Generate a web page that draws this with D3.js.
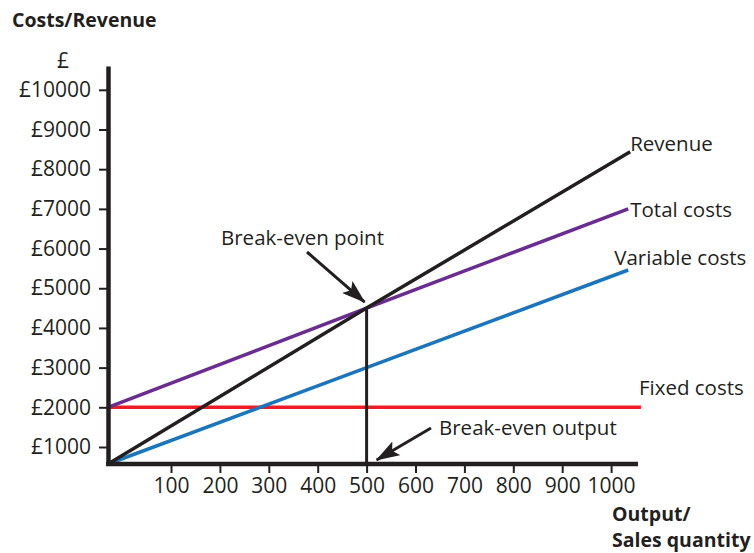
<!DOCTYPE html>
<html>
<head>
<meta charset="utf-8">
<script src="https://cdn.jsdelivr.net/npm/d3@7"></script>
<style>
  body { margin: 0; background: #fff; }
  text { font-family: "Open Sans", "Noto Sans", sans-serif; fill: #231f20; }
</style>
</head>
<body>
<div id="chart"></div>
<script>
// values (quantity, £)
const xTicks = [100, 200, 300, 400, 500, 600, 700, 800, 900, 1000];
const yTicks = [1000, 2000, 3000, 4000, 5000, 6000, 7000, 8000, 9000, 10000];
const revenue = [[0, 0], [500, 4500], [1039, 8440]];
const totalCosts = [[0, 2000], [500, 4500], [1035, 7000]];
const variableCosts = [[0, 0], [500, 3000], [1035, 5460]];
const fixedCosts = [[0, 2000], [1061, 2000]];
const breakEven = [500, 4500];

const width = 754, height = 553;
const ink = "#231f20";

const svg = d3.select("#chart").append("svg")
    .attr("width", width)
    .attr("height", height);

// the drawing is schematic: first step of each axis is wider than the rest
const x = d3.scaleLinear().domain([0, 100, 1055]).range([108, 171, 638]);
const y = d3.scaleLinear().domain([0, 1000, 10600]).range([464, 447, 66]);

// arrow head
svg.append("defs").append("marker")
    .attr("id", "head")
    .attr("markerUnits", "userSpaceOnUse")
    .attr("viewBox", "0 0 24 16")
    .attr("refX", 23).attr("refY", 8)
    .attr("markerWidth", 24).attr("markerHeight", 16)
    .attr("orient", "auto")
    .append("path")
    .attr("d", "M0,0 L24,8 L0,16 L5,8 Z")
    .attr("fill", ink);

// series lines
const line = d3.line().x(d => x(d[0])).y(d => y(d[1]));
const series = [
    { data: fixedCosts, color: "#ed1c24" },
    { data: variableCosts, color: "#1b75bc" },
    { data: totalCosts, color: "#6a2c91" },
    { data: revenue, color: ink }
];
svg.selectAll("path.series")
    .data(series)
    .enter().append("path")
    .attr("class", "series")
    .attr("fill", "none")
    .attr("stroke", d => d.color)
    .attr("stroke-width", 3.5)
    .attr("d", d => line(d.data));

// break-even drop line
svg.append("line")
    .attr("x1", x(breakEven[0])).attr("x2", x(breakEven[0]))
    .attr("y1", y(breakEven[1])).attr("y2", y(0))
    .attr("stroke", ink).attr("stroke-width", 3);

// axes
const yAxis = svg.append("g")
    .attr("transform", `translate(${x(0)},0)`)
    .call(d3.axisLeft(y).tickValues(yTicks).tickSize(9).tickSizeOuter(0).tickPadding(8)
        .tickFormat(d => "£" + d));
const xAxis = svg.append("g")
    .attr("transform", `translate(0,${y(0)})`)
    .call(d3.axisBottom(x).tickValues(xTicks).tickSize(9).tickSizeOuter(0).tickPadding(5)
        .tickFormat(d => d));

[yAxis, xAxis].forEach(g => {
    g.select(".domain").attr("stroke", ink).attr("stroke-width", 4.5);
    g.selectAll(".tick line").attr("stroke", ink).attr("stroke-width", 2);
    g.selectAll(".tick text").style("font-size", "21px").style("fill", ink);
});
xAxis.select(".domain").attr("d", `M${x(0) - 2},0H${x(1055)}`);

// axis titles
svg.append("text").attr("x", 12).attr("y", 27)
    .style("font-size", "19.5px").style("font-weight", "bold")
    .text("Costs/Revenue");
svg.append("text").attr("x", 63).attr("y", 68)
    .attr("text-anchor", "middle").style("font-size", "21px")
    .text("£");
svg.append("text").attr("x", 612).attr("y", 521)
    .style("font-size", "19.5px").style("font-weight", "bold")
    .text("Output/");
svg.append("text").attr("x", 612).attr("y", 547)
    .style("font-size", "19.5px").style("font-weight", "bold")
    .text("Sales quantity");

// line labels
const last = a => a[a.length - 1];
const labels = [
    { text: "Revenue", pt: last(revenue), dx: 0, dy: -1 },
    { text: "Total costs", pt: last(totalCosts), dx: 2, dy: 8 },
    { text: "Variable costs", pt: last(variableCosts), dx: -14, dy: -5 },
    { text: "Fixed costs", pt: last(fixedCosts), dx: -2, dy: -12 }
];
svg.selectAll("text.label")
    .data(labels)
    .enter().append("text")
    .attr("class", "label")
    .attr("x", d => x(d.pt[0]) + d.dx)
    .attr("y", d => y(d.pt[1]) + d.dy)
    .style("font-size", "20.5px")
    .text(d => d.text);

// annotations
const bx = x(breakEven[0]), by = y(breakEven[1]);
svg.append("text").attr("x", 221).attr("y", 245)
    .style("font-size", "20.5px").text("Break-even point");
svg.append("line")
    .attr("x1", 307).attr("y1", 252)
    .attr("x2", bx - 2).attr("y2", by - 6)
    .attr("stroke", ink).attr("stroke-width", 3)
    .attr("marker-end", "url(#head)");

svg.append("text").attr("x", 439).attr("y", 435)
    .style("font-size", "20.5px").text("Break-even output");
svg.append("line")
    .attr("x1", 431).attr("y1", 428)
    .attr("x2", bx + 10).attr("y2", y(0) - 4)
    .attr("stroke", ink).attr("stroke-width", 3)
    .attr("marker-end", "url(#head)");
</script>
</body>
</html>
